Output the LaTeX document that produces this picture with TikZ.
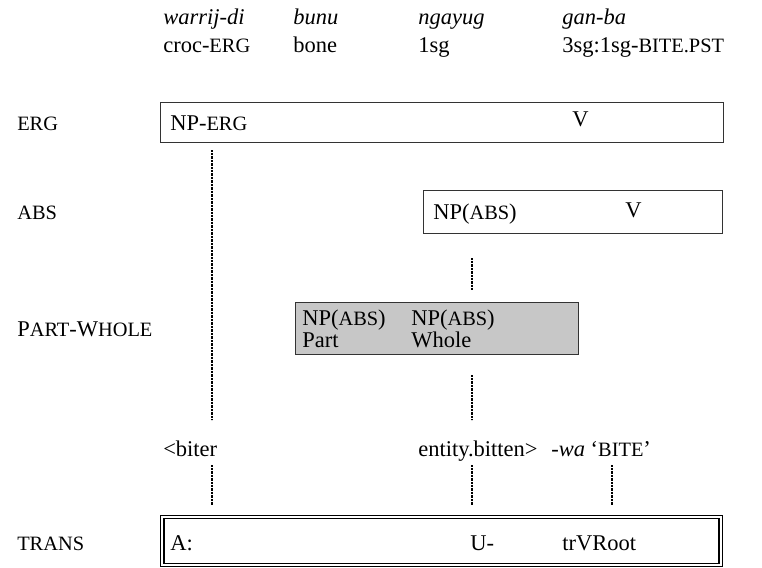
\documentclass[tikz,border=0pt]{standalone}
\usepackage{fontspec}
\setmainfont{Liberation Serif}
\newcommand{\smc}[1]{{\fontsize{14.5}{16}\selectfont #1}}

\begin{document}
\begin{tikzpicture}[x=0.025cm, y=-0.025cm,
    every node/.style={font=\fontsize{16}{18}\selectfont},
    txt/.style={anchor=base west, inner sep=0pt},
    layer/.style={draw=black!80, line width=0.5pt, inner sep=0pt},
    dotline/.style={line width=1pt, dash pattern=on 0.5pt off 0.5pt}]
    \useasboundingbox (0,0) rectangle (762,567);

    % Gloss lines
    \node[txt] (w1) at (163,24) {\textit{warrij-di}};
    \node[txt] (w2) at (293,24) {\textit{bunu}};
    \node[txt] (w3) at (418,24) {\textit{ngayug}};
    \node[txt] (w4) at (562,24) {\textit{gan-ba}};
    \node[txt] (g1) at (163,52) {croc-\smc{ERG}};
    \node[txt] (g2) at (293,52) {bone};
    \node[txt] (g3) at (418,52) {1sg};
    \node[txt] (g4) at (562,52) {3sg:1sg-\smc{BITE.PST}};

    % ERG
    \node[txt] (erg) at (17,130) {\smc{ERG}};
    \node[layer, minimum width=14.075cm, minimum height=1cm] (ergbox) at (441.5,122) {};
    \node[txt] (npErg) at (170,130) {NP-\smc{ERG}};
    \node[txt] (vErg) at (572,126) {V};

    % ABS
    \node[txt] (abs) at (17,219) {\smc{ABS}};
    \node[layer, minimum width=7.475cm, minimum height=1.075cm] (absbox) at (572.5,211.5) {};
    \node[txt] (npAbs) at (433,219) {NP(\smc{ABS})};
    \node[txt] (vAbs) at (625,217) {V};

    % Part-whole
    \node[txt] (pw) at (17,336) {P\smc{ART}-W\smc{HOLE}};
    \node[layer, fill=black!22, minimum width=7.075cm, minimum height=1.3cm] (pwbox) at (436.5,328) {};
    \node[txt] (npPart) at (302,325) {NP(\smc{ABS})};
    \node[txt] (part) at (302,347) {Part};
    \node[txt] (npWhole) at (411,325) {NP(\smc{ABS})};
    \node[txt] (whole) at (411,347) {Whole};

    % Argument structure
    \node[txt] (biter) at (163,456) {<biter};
    \node[txt] (bitten) at (418,456) {entity.bitten>};
    \node[txt] (wa) at (551,456) {\textit{-wa} `\smc{BITE}'};

    % TRANS
    \node[txt] (trans) at (17,550) {\smc{TRANS}};
    \node[draw, double, double distance=1.5pt, line width=0.8pt, inner sep=0pt,
          minimum width=13.95cm, minimum height=1.2cm] (transbox) at (441.5,541) {};
    \node[txt] (a) at (170,550) {A:};
    \node[txt] (u) at (470,550) {U-};
    \node[txt] (root) at (562,550) {trVRoot};

    % Links
    \coordinate (l1a) at (212,150);
    \coordinate (l1b) at (212,420);
    \coordinate (l2a) at (472,258);
    \coordinate (l2b) at (472,290);
    \coordinate (l3a) at (472,375);
    \coordinate (l3b) at (472,420);
    \coordinate (l4a) at (212,465);
    \coordinate (l4b) at (212,505);
    \coordinate (l5a) at (472,465);
    \coordinate (l5b) at (472,505);
    \coordinate (l6a) at (612,465);
    \coordinate (l6b) at (612,505);
    \foreach \s/\e in {l1a/l1b, l2a/l2b, l3a/l3b, l4a/l4b, l5a/l5b, l6a/l6b}
        \draw[dotline] (\s) -- (\e);
\end{tikzpicture}
\end{document}
